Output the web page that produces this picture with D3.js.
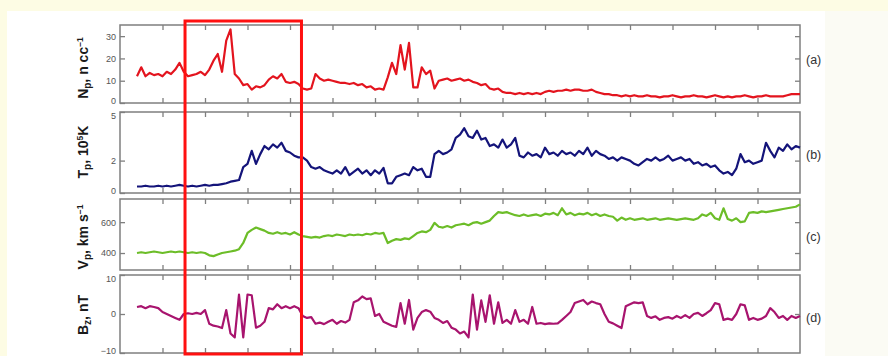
<!DOCTYPE html>
<html><head><meta charset="utf-8">
<script src="https://cdn.jsdelivr.net/npm/d3@7"></script>
<style>
html,body{margin:0;padding:0;background:#fdfce4;}
svg{display:block;}
</style></head>
<body>
<svg id="chart" width="888" height="356"></svg>
<script>
// ---- data (time in days, sampled from t0 with step dt) ----
const t0 = 0.4, dt = 0.1;
const xTicks = [1,2,3,4,5,6,7,8,9,10,11,12,13,14,15];

const npValues = [12,16,12,13.5,12.5,13,12,14,13,15,18,14,12,12.5,13,14,12.5,15,19,22,14,28,33,13,11,8,8.5,6,7.5,7,8,10.5,12,11,13,9.5,9,9.5,8.5,6.5,6,6.5,13,11,10,10.5,10,9.5,9,9,8.5,9,8,8.5,7,7.5,6,6.5,6,11.5,18,13,26,15,27,7,7,16,13,14.5,6.5,10,10.5,11,10,10.5,11,10,10.5,9.5,9,8,8.5,6.5,6,6.5,5,4.5,4.5,4,4.5,4,4.5,4,4.5,4,5,5.5,5,5.5,5.5,6,5.5,6,6,5.5,5.5,6,5,4.5,4,4,3.5,3.5,3,3.5,3,3.5,3,3,3.5,3,3,2.5,3,3,3.5,3,2.5,3,3,3.5,3,3,2.5,3,3.5,3,2.5,3,2.5,3,3,3.5,3,2.5,3,3,3.5,3,3,3,3,3.5,4,4,4];

const tpValues = [0.4,0.4,0.45,0.4,0.4,0.45,0.4,0.45,0.4,0.45,0.5,0.45,0.4,0.45,0.4,0.45,0.5,0.45,0.5,0.5,0.55,0.6,0.7,0.75,0.8,1.6,1.8,2.6,1.8,2.4,2.9,2.7,3.0,2.8,3.1,2.6,2.5,2.3,2.2,2.2,2.0,1.6,1.5,1.6,1.4,1.3,1.2,1.4,1.2,1.6,1.1,1.3,1.5,1.2,1.4,1.1,1.4,1.2,1.55,0.6,0.6,1.0,1.1,1.2,1.1,1.6,1.4,1.5,1.0,1.0,2.4,2.6,2.4,2.5,2.7,3.4,3.6,4.0,3.5,3.4,3.85,3.3,3.4,2.9,3.0,2.8,3.3,2.8,3.0,3.4,2.3,2.2,2.5,2.3,2.4,2.2,2.8,2.4,2.5,2.3,2.6,2.4,2.5,2.3,2.6,2.4,2.8,2.3,2.6,2.4,2.3,2.1,2.2,2.0,2.2,2.1,2.0,1.8,1.7,1.9,2.1,2.0,2.2,2.0,2.1,2.3,2.0,2.1,2.2,2.0,2.1,1.8,1.9,1.7,1.8,1.6,1.7,1.4,1.2,1.3,1.1,1.5,2.4,1.9,2.0,1.8,1.9,2.0,3.1,2.6,2.2,2.8,2.6,3.0,2.7,2.9,2.8];

const vpValues = [400,405,400,405,410,405,400,405,410,405,410,405,400,405,400,405,400,385,380,390,400,405,410,415,425,465,530,550,565,555,545,530,525,535,525,530,520,535,520,510,505,500,505,500,510,515,510,520,515,510,520,515,520,515,525,520,530,525,530,465,480,490,485,495,490,510,530,540,535,550,595,570,565,575,565,580,585,590,580,595,600,590,600,610,640,665,660,665,655,645,640,650,640,645,650,640,655,650,660,645,690,650,660,645,655,650,660,645,655,640,650,640,635,610,630,615,625,615,620,625,615,620,625,615,620,625,620,615,620,625,620,615,625,650,640,660,625,615,690,620,610,625,600,605,660,665,660,670,665,670,675,680,685,690,695,700,715];

const bzValues = [1.8,2,1.5,2,1.8,1.5,0.5,0,-0.5,-1,-1.5,0,0.2,0,0.3,0,1,-2.5,-3,-3.2,-3.6,1,-5,-6,5,-6,5,4.8,-3.5,-3,-2,1.5,1.2,2.5,1.5,2,1.5,2,1.5,-0.5,-1,-0.8,-2.5,-2.2,-2.6,-2,-1.5,-2.5,-1.8,-2.2,-1.5,3,3.5,4.5,3.8,4,-0.5,0,-2,-2.5,-3,-3.3,2.8,-2.5,3.6,-4,-1,0.5,1,0.6,-1,-1.5,-2.3,-1.8,-3.5,-4,-5,-4.5,-6,5,-4,3.5,-2,4.8,-2.5,3,-2.3,-1.5,-2.5,1,-2,-1.5,-2.5,1.8,-2.5,-2.3,-2.6,-2.4,-2.5,-2.4,-1.5,-0.5,0.5,2.8,3.2,3.6,2.5,3.2,2.8,2.5,0,-2,-2.4,-3,-3.6,2,2.5,3,2.8,3,-0.5,-1,-0.6,-1.5,-1,-0.8,-1.2,-0.5,-1,-0.3,-1,0,0.3,-0.5,0.2,1,2.8,2.5,-1.5,-1.2,-1.5,0,2.5,2.2,-1.5,-1,-1.5,-1.2,-0.5,1.5,0.5,-1,-0.5,-1.5,-0.5,-1,-0.5];

const npTicks = [0,10,20,30];
const tpTicks = [0,2,5];
const vpTicks = [400,600];
const bzTicks = [-10,0,10];

const panelLabels = ["(a)","(b)","(c)","(d)"];

// ---- layout ----
const svg = d3.select("#chart");
svg.append("rect").attr("x",0).attr("y",0).attr("width",888).attr("height",356).attr("fill","#fdfce4");
svg.append("rect").attr("x",825).attr("y",11).attr("width",63).attr("height",345).attr("fill","#fbfbf4");
svg.append("rect").attr("x",7).attr("y",11).attr("width",818).attr("height",345).attr("fill","#ffffff");

const x = d3.scaleLinear().domain([0,16]).range([120,800]);

const panels = [
  {vals:npValues, color:"#e3141e", domain:[0,35], top:25, bottom:103, ticks:npTicks, rightTicks:[10,20,30], label:panelLabels[0], labelY:60},
  {vals:tpValues, color:"#14147a", domain:[0,5], top:112, bottom:193, ticks:tpTicks, rightTicks:[2], label:panelLabels[1], labelY:155},
  {vals:vpValues, color:"#6cbd28", domain:[290,750], top:199, bottom:270, ticks:vpTicks, rightTicks:[400,600], label:panelLabels[2], labelY:237},
  {vals:bzValues, color:"#a8146e", domain:[-10,10], top:275, bottom:353, ticks:bzTicks, rightTicks:[0], label:panelLabels[3], labelY:318}
];

const frameColor = "#7f7f7f";

panels.forEach((p, pi) => {
  const y = d3.scaleLinear().domain(p.domain).range([p.bottom, p.top]);
  const g = svg.append("g");
  g.append("rect").attr("x",120).attr("y",p.top).attr("width",680).attr("height",p.bottom-p.top)
    .attr("fill","none").attr("stroke",frameColor).attr("stroke-width",1.5);
  const xb = d3.axisBottom(x).tickValues(xTicks).tickSize(-5).tickFormat("");
  const xt = d3.axisTop(x).tickValues(xTicks).tickSize(-5).tickFormat("");
  g.append("g").attr("transform",`translate(0,${p.bottom})`).call(xb);
  g.append("g").attr("transform",`translate(0,${p.top})`).call(xt);
  const yl = d3.axisLeft(y).tickValues(p.ticks).tickSize(-5).tickPadding(4).tickFormat(d3.format("d"));
  const ylg = g.append("g").attr("transform","translate(120,0)").call(yl);
  const yr = d3.axisRight(y).tickValues(p.rightTicks).tickSize(-5).tickFormat("");
  g.append("g").attr("transform","translate(800,0)").call(yr);
  g.selectAll(".domain").remove();
  g.selectAll(".tick line").attr("stroke",frameColor).attr("stroke-width",1.3);
  ylg.selectAll(".tick text").attr("font-family","Liberation Sans, Arial, sans-serif").attr("font-size",9).attr("fill","#555");
  // nudge the labels that sit on panel edges so neighbours do not touch
  ylg.selectAll(".tick text").filter(d => d === p.domain[0]).attr("dy", pi === 3 ? "0em" : "0.05em");
  ylg.selectAll(".tick text").filter(d => d === p.domain[1]).attr("dy","0.7em");
  const line = d3.line().x((d,i)=>x(t0 + i*dt)).y(d=>y(d));
  g.append("path").datum(p.vals).attr("d",line).attr("fill","none")
    .attr("stroke",p.color).attr("stroke-width",2.2).attr("stroke-linejoin","round");
  g.append("text").attr("x",806).attr("y",p.labelY).attr("dy","0.35em")
    .attr("font-family","Liberation Sans, Arial, sans-serif").attr("font-size",12.5).attr("fill","#333").text(p.label);
});

function title(cy, parts){
  const t = svg.append("text").attr("transform",`translate(88,${cy}) rotate(-90)`)
    .attr("text-anchor","middle").attr("font-family","Liberation Sans, Arial, sans-serif")
    .attr("font-size",14).attr("font-weight","bold").attr("fill","#1a1a1a");
  parts.forEach(pt => {
    const s = t.append("tspan").text(pt.t);
    if (pt.sub) s.attr("font-size",10).attr("dy",pt.dy);
    else if (pt.sup) s.attr("font-size",8.5).attr("dy",pt.dy);
    else if (pt.dy) s.attr("dy",pt.dy);
  });
}
title(68, [{t:"N"},{t:"p",sub:true,dy:3},{t:", n cc",dy:-3},{t:"−1",sup:true,dy:-5}]);
title(152,[{t:"T"},{t:"p",sub:true,dy:3},{t:", 10",dy:-3},{t:"5",sup:true,dy:-5},{t:"K",dy:5}]);
title(237,[{t:"V"},{t:"p",sub:true,dy:3},{t:", km s",dy:-3},{t:"−1",sup:true,dy:-5}]);
title(315,[{t:"B"},{t:"z",sub:true,dy:3},{t:", nT",dy:-3}]);

svg.append("rect").attr("x",x(1.53)).attr("y",21).attr("width",x(4.27)-x(1.53)).attr("height",333)
  .attr("fill","none").attr("stroke","#ff1010").attr("stroke-width",3);
</script>
</body></html>
